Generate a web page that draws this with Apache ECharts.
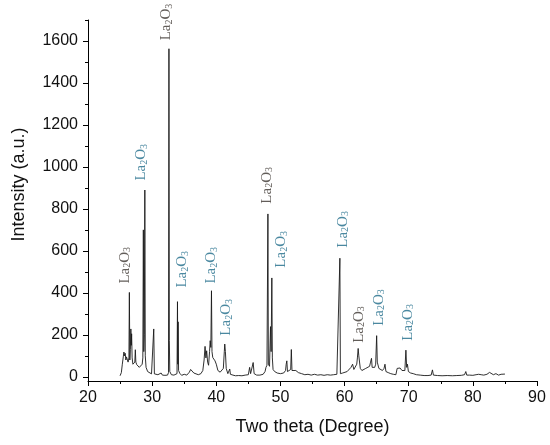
<!DOCTYPE html>
<html>
<head>
<meta charset="utf-8">
<script src="https://cdn.jsdelivr.net/npm/echarts@6/dist/echarts.min.js"></script>
<style>
html,body{margin:0;padding:0;background:#fff;}
#chart{width:550px;height:445px;}
</style>
</head>
<body>
<div id="chart"></div>
<script>
// XRD pattern: [two theta (deg), intensity (a.u.)]
const pattern = [
[25.0,5],[25.2,20],[25.35,60],[25.5,95],[25.6,118],[25.7,100],[25.8,112],[25.9,80],[26.0,95],[26.1,100],
[26.25,70],[26.38,90],[26.45,402],[26.52,80],[26.6,130],[26.68,228],[26.75,150],[26.8,205],[26.88,90],[27.0,60],
[27.15,55],[27.3,70],[27.38,129],[27.46,70],[27.6,58],[27.8,62],[28.0,45],[28.2,50],[28.45,60],[28.55,90],
[28.63,700],[28.7,120],[28.78,200],[28.86,890],[28.93,100],[29.05,45],[29.3,25],[29.6,17],[29.9,14],[30.15,12],
[30.25,228],[30.35,14],[30.6,10],[30.9,10],[31.2,14],[31.4,18],[31.6,8],[32.0,7],[32.4,8],[32.55,20],
[32.62,1563],[32.68,172],[32.75,25],[33.0,10],[33.4,8],[33.7,6],[33.88,15],[33.95,358],[34.0,60],[34.05,262],
[34.12,30],[34.3,17],[34.6,7],[35.0,12],[35.4,8],[35.8,22],[36.0,35],[36.15,40],[36.3,30],[36.5,18],
[36.8,12],[37.2,10],[37.6,15],[37.9,30],[38.1,80],[38.25,145],[38.38,90],[38.5,124],[38.65,70],[38.8,55],
[38.95,120],[39.05,172],[39.15,140],[39.25,410],[39.33,120],[39.45,92],[39.6,85],[39.8,76],[40.0,60],[40.25,30],
[40.6,22],[40.9,25],[41.1,40],[41.25,120],[41.32,156],[41.42,120],[41.55,40],[41.8,15],[42.0,20],[42.1,37],
[42.2,12],[42.6,8],[43.0,5],[43.5,6],[44.0,5],[44.5,8],[45.0,10],[45.2,45],[45.35,15],[45.6,20],
[45.75,68],[45.9,15],[46.3,8],[46.8,8],[47.3,12],[47.6,25],[47.75,45],[47.9,55],[48.0,60],[48.05,776],
[48.12,60],[48.3,50],[48.45,239],[48.55,120],[48.66,471],[48.74,90],[48.85,35],[49.1,25],[49.5,18],[50.0,15],
[50.5,18],[50.8,30],[50.9,60],[51.0,76],[51.1,25],[51.4,20],[51.6,35],[51.7,130],[51.8,30],[52.1,25],
[52.4,30],[52.8,20],[53.3,15],[53.8,10],[54.3,12],[54.8,8],[55.3,12],[55.8,8],[56.3,10],[56.8,7],
[57.3,10],[57.8,8],[58.3,10],[58.8,12],[59.1,15],[59.27,565],[59.35,15],[59.7,18],[60.0,22],[60.4,25],
[60.7,30],[61.0,45],[61.25,60],[61.45,35],[61.7,40],[61.9,60],[62.0,90],[62.12,135],[62.22,100],[62.32,92],
[62.45,40],[62.7,30],[63.0,28],[63.3,40],[63.6,35],[63.9,50],[64.05,70],[64.2,88],[64.3,45],[64.5,40],
[64.7,45],[64.85,60],[65.0,196],[65.1,70],[65.2,76],[65.35,40],[65.6,35],[65.9,30],[66.15,40],[66.3,60],
[66.45,25],[66.8,20],[67.2,15],[67.6,12],[68.0,10],[68.2,40],[68.35,45],[68.5,38],[68.65,42],[68.8,45],
[68.95,30],[69.2,25],[69.4,30],[69.56,127],[69.68,45],[69.8,60],[69.95,25],[70.3,18],[70.7,15],[71.2,10],
[71.8,8],[72.4,6],[73.0,6],[73.5,8],[73.7,33],[73.85,8],[74.5,6],[75.2,5],[76.0,6],[76.8,5],
[77.5,6],[78.2,7],[78.7,10],[78.9,25],[79.05,8],[79.5,8],[80.0,7],[80.5,10],[80.9,12],[81.1,18],
[81.3,10],[81.7,8],[82.2,12],[82.6,21],[82.9,12],[83.2,10],[83.6,15],[84.0,8],[84.4,12],[84.7,8],[85.0,13]
];

// Phase annotations: anchor [two theta, intensity] where each rotated label starts
const labelTheta = [25.73, 28.33, 32.23, 34.73, 39.25, 41.59, 47.93, 50.17, 59.69, 62.28, 65.40, 69.92];
const labelIntensity = [444, 935, 1603, 425, 444, 196, 825, 520, 615, 162, 243, 172];
const labelPhase = ['La2O3','La2O3','La2O3','La2O3','La2O3','La2O3','La2O3','La2O3','La2O3','La2O3','La2O3','La2O3'];

// Axis ticks
const yTicks = [0, 200, 400, 600, 800, 1000, 1200, 1400, 1600];
const yMinorTicks = [100, 300, 500, 700, 900, 1100, 1300, 1500, 1700];

const darkIdx = [0, 2, 6, 9];
const labelData = labelTheta.map((t, i) => ({
  value: [t, labelIntensity[i]],
  name: labelPhase[i],
  label: { color: darkIdx.indexOf(i) >= 0 ? '#3b3530' : '#1d6a88' }
}));

function phaseRich(name) {
  // La2O3 -> La{sub 2}O{sub 3}
  return name.replace(/(\d)/g, '}{s|$1}{a|').replace(/^/, '{a|') + '}';
}

const chart = echarts.init(document.getElementById('chart'), null, { renderer: 'canvas' });
const axisColor = '#000';
chart.setOption({
  animation: false,
  backgroundColor: '#fff',
  grid: { left: 88, right: 13, top: 20, bottom: 64, containLabel: false },
  xAxis: {
    type: 'value', min: 20, max: 90, interval: 10,
    name: 'Two theta (Degree)', nameLocation: 'middle', nameGap: 37,
    nameTextStyle: { fontFamily: 'Liberation Sans', fontSize: 18, color: '#111' },
    axisLine: { show: true, onZero: false, lineStyle: { color: axisColor, width: 1 } },
    axisTick: { show: true, inside: false, length: 5, lineStyle: { color: axisColor } },
    minorTick: { show: true, splitNumber: 2, length: 3, lineStyle: { color: axisColor } },
    axisLabel: { fontFamily: 'Liberation Sans', fontSize: 16, color: '#111', margin: 9 },
    splitLine: { show: false }
  },
  yAxis: [{
    type: 'value', min: -20, max: 1700,
    name: 'Intensity (a.u.)', nameLocation: 'middle', nameGap: 60, nameRotate: 90,
    nameTextStyle: { fontFamily: 'Liberation Sans', fontSize: 18, color: '#111', padding: [0, 0, 0, 32] },
    axisLine: { show: true, lineStyle: { color: axisColor, width: 1 } },
    axisTick: { show: true, inside: false, length: 5, customValues: yTicks, lineStyle: { color: axisColor } },
    axisLabel: { fontFamily: 'Liberation Sans', fontSize: 16, color: '#111', margin: 10, customValues: yTicks,
      formatter: v => String(v) },
    splitLine: { show: false }
  }, {
    type: 'value', min: -20, max: 1700, position: 'left',
    axisLine: { show: false },
    axisTick: { show: true, inside: false, length: 3, customValues: yMinorTicks, lineStyle: { color: axisColor } },
    axisLabel: { show: false },
    splitLine: { show: false }
  }],
  series: [{
    type: 'line',
    data: pattern,
    yAxisIndex: 0,
    showSymbol: false,
    symbol: 'none',
    lineStyle: { color: '#1a1a1a', width: 0.9 },
    clip: false,
    z: 2
  }, {
    type: 'scatter',
    data: labelData,
    yAxisIndex: 0,
    symbolSize: 0,
    silent: true,
    z: 5,
    label: {
      show: true,
      position: 'inside',
      rotate: 90,
      align: 'left',
      verticalAlign: 'middle',
      formatter: p => phaseRich(p.name),
      rich: {
        a: { fontFamily: 'Liberation Serif', fontSize: 15, verticalAlign: 'top', lineHeight: 15, padding: [0, 0, 3, 0] },
        s: { fontFamily: 'Liberation Serif', fontSize: 10, verticalAlign: 'bottom', lineHeight: 10 }
      }
    }
  }]
});
</script>
</body>
</html>
